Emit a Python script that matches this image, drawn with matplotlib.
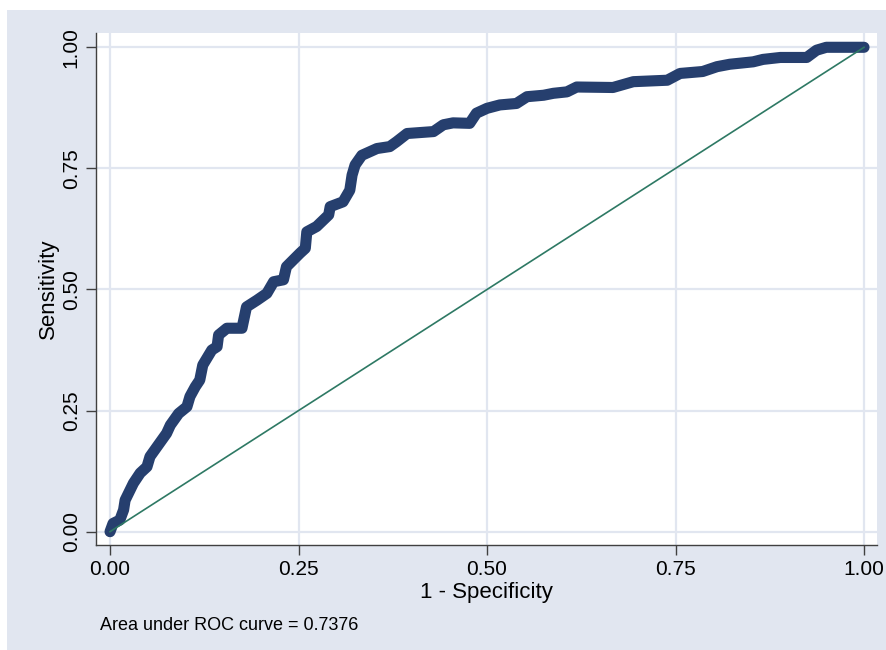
import numpy as np
import matplotlib
matplotlib.use('Agg')
import matplotlib.pyplot as plt
from matplotlib.patches import Rectangle

plt.rcParams['font.family'] = ['Liberation Sans', 'DejaVu Sans']

# ROC curve points (1 - specificity, sensitivity)
fpr = [0.000, 0.004, 0.013, 0.018, 0.020, 0.031, 0.040, 0.049, 0.053, 0.064,
       0.075, 0.080, 0.091, 0.102, 0.106, 0.113, 0.119, 0.123, 0.135, 0.142,
       0.144, 0.155, 0.175, 0.181, 0.195, 0.208, 0.217, 0.230, 0.234, 0.252,
       0.259, 0.261, 0.274, 0.290, 0.292, 0.309, 0.318, 0.321, 0.325, 0.334,
       0.354, 0.371, 0.380, 0.394, 0.429, 0.442, 0.455, 0.477, 0.486, 0.500,
       0.517, 0.539, 0.553, 0.575, 0.588, 0.606, 0.619, 0.667, 0.694, 0.739,
       0.756, 0.786, 0.805, 0.822, 0.853, 0.866, 0.889, 0.924, 0.937, 0.950,
       1.000]
tpr = [0.000, 0.017, 0.024, 0.045, 0.065, 0.100, 0.121, 0.134, 0.155, 0.179,
       0.203, 0.220, 0.244, 0.258, 0.279, 0.299, 0.313, 0.344, 0.375, 0.382,
       0.406, 0.420, 0.420, 0.464, 0.478, 0.492, 0.516, 0.520, 0.547, 0.575,
       0.585, 0.619, 0.630, 0.654, 0.671, 0.681, 0.705, 0.736, 0.757, 0.777,
       0.791, 0.795, 0.805, 0.822, 0.826, 0.840, 0.844, 0.843, 0.864, 0.874,
       0.881, 0.884, 0.898, 0.901, 0.905, 0.908, 0.918, 0.917, 0.929, 0.932,
       0.946, 0.950, 0.960, 0.965, 0.970, 0.975, 0.979, 0.979, 0.994, 1.000,
       1.000]
ref_x = [0, 1]
ref_y = [0, 1]
ticks = [0.0, 0.25, 0.5, 0.75, 1.0]
tick_labels = ['0.00', '0.25', '0.50', '0.75', '1.00']
auc_text = 'Area under ROC curve = 0.7376'

bg = '#e1e6f0'
navy = '#263f6e'
teal = '#2e7964'

fig = plt.figure(figsize=(8.87, 6.5), dpi=100)
fig.patch.set_facecolor('white')
fig.patches.append(Rectangle((7 / 887, 0), 1, 1 - 10 / 650, transform=fig.transFigure,
                             facecolor=bg, edgecolor='none', zorder=-10))

ax = fig.add_axes([96 / 887, 1 - 545 / 650, 781 / 887, 512 / 650])
ax.set_facecolor('white')

ax.plot(fpr, tpr, color=navy, lw=8, solid_capstyle='round',
        solid_joinstyle='round', zorder=3)
ax.plot(ref_x, ref_y, color=teal, lw=1.2, zorder=4)

ax.set_xlim(-0.0186, 1.0172)
ax.set_ylim(-0.0275, 1.0295)
ax.set_xticks(ticks)
ax.set_xticklabels(tick_labels)
ax.set_yticks(ticks)
ax.set_yticklabels(tick_labels, rotation=90, va='center')
ax.grid(True, color=bg, lw=1.6)
ax.set_axisbelow(True)

for s in ['top', 'right']:
    ax.spines[s].set_visible(False)
for s in ['left', 'bottom']:
    ax.spines[s].set_color('#404040')
    ax.spines[s].set_linewidth(1.0)
ax.tick_params(direction='out', length=7, width=1.0, color='#404040',
               labelsize=15, pad=4)

ax.set_xlabel('1 - Specificity', fontsize=16, labelpad=2)
ax.set_ylabel('Sensitivity', fontsize=16, labelpad=2)

fig.text(100 / 887, 1 - 625 / 650, auc_text, fontsize=13, va='center', ha='left')

plt.savefig('out.png', dpi=100, facecolor=fig.get_facecolor())
